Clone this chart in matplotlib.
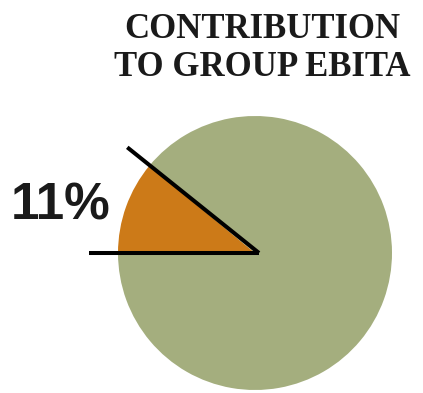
import numpy as np
import matplotlib.pyplot as plt

shares = [11, 89]
colors = ['#CC7A18', '#A4AE7E']
label = '11%'
title = 'CONTRIBUTION\nTO GROUP EBITA'

fig = plt.figure(figsize=(4.23, 3.93), dpi=100)
ax = fig.add_axes([0, 0, 1, 1])

cx, cy, r = 255, 140, 137
start = 180 - shares[0] / sum(shares) * 360

ax.pie(shares, colors=colors, startangle=start, counterclock=True,
       center=(cx, cy), radius=r, frame=True,
       wedgeprops=dict(linewidth=0))
ax.set_xlim(0, 423)
ax.set_ylim(0, 393)
ax.set_aspect('equal')
ax.axis('off')

# black edge lines of the small slice, running out past the rim
for ang in (180, start):
    t = np.deg2rad(ang)
    ax.plot([cx + 4, cx + 1.21 * r * np.cos(t)],
            [cy, cy + 1.21 * r * np.sin(t)],
            color='black', lw=2.9, solid_capstyle='butt', zorder=3)

ax.text(61, 187, label, ha='center', va='center', fontsize=37,
        fontweight='bold', family='Liberation Sans', color='#1a1a1a')

ax.text(262, 344, title, ha='center', va='center', fontsize=25,
        fontweight='bold', family='Liberation Serif', color='#1a1a1a',
        linespacing=1.2)

fig.savefig('out.png', dpi=100)
